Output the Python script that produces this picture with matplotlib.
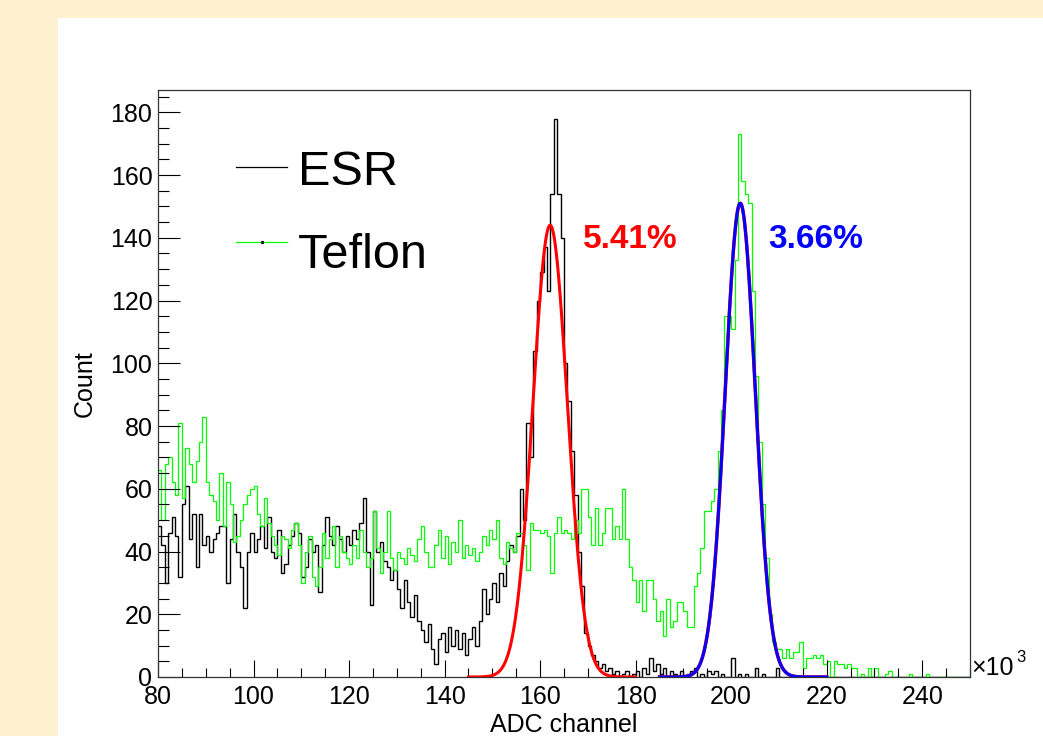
"""
ESR vs Teflon ADC spectra with Gaussian peak fits (ROOT-style canvas).
"""
import numpy as np
import matplotlib
matplotlib.use('Agg')
import matplotlib.pyplot as plt
from matplotlib.patches import Rectangle
from matplotlib.ticker import MultipleLocator

plt.rcParams['font.family'] = ['Liberation Sans', 'DejaVu Sans']

# binning: 350 bins over 0-250 (x10^3 ADC), range shown 80-250
bin_width = 250 / 350
x_lo, x_hi = 80, 250
y_hi = 187.1

# counts per bin, 14 bins per 10 channels (x10^3)
esr_counts = (
    [48, 42, 30, 46, 51, 45, 32, 55, 61, 44, 52, 35, 52, 42] +      # 80
    [45, 40, 44, 46, 48, 48, 30, 44, 52, 40, 35, 22, 40, 46] +      # 90
    [40, 44, 48, 41, 51, 40, 38, 47, 33, 36, 42, 45, 49, 46] +      # 100
    [32, 35, 44, 40, 42, 27, 42, 51, 45, 42, 48, 44, 40, 45] +      # 110
    [42, 47, 44, 49, 57, 40, 23, 53, 40, 43, 37, 35, 31, 34] +      # 120
    [28, 22, 31, 24, 19, 26, 18, 15, 11, 17, 9, 4, 12, 14] +        # 130
    [8, 16, 10, 15, 9, 14, 7, 12, 16, 10, 18, 28, 20, 25] +         # 140
    [30, 24, 33, 29, 37, 42, 40, 45, 60, 50, 81, 70, 104, 120] +    # 150
    [129, 137, 123, 154, 178, 154, 140, 100, 88, 72, 58, 40, 29, 14] +  # 160
    [10, 7, 5, 3, 4, 2, 3, 1, 2, 0, 1, 2, 0, 1] +                   # 170
    [2, 0, 3, 1, 6, 2, 4, 1, 3, 0, 2, 1, 0, 2] +                    # 180
    [0, 1, 2, 3, 0, 1, 0, 2, 1, 2, 0, 1, 0, 0] +                    # 190
    [6, 0, 1, 0, 1, 0, 0, 3, 0, 1, 0, 0, 0, 3] +                    # 200
    [0] * 14 + [0] * 14 + [0] * 14 + [0] * 14                       # 210-250
)

teflon_counts = (
    [66, 50, 68, 70, 62, 58, 81, 57, 73, 68, 62, 69, 75, 83] +      # 80
    [62, 58, 56, 50, 65, 48, 62, 55, 43, 45, 50, 55, 58, 60] +      # 90
    [61, 52, 48, 57, 49, 45, 42, 39, 45, 44, 41, 47, 49, 42] +      # 100
    [30, 40, 45, 32, 29, 35, 46, 38, 44, 48, 35, 45, 40, 38] +      # 110
    [36, 42, 38, 47, 40, 35, 38, 53, 41, 33, 40, 53, 38, 34] +      # 120
    [40, 38, 36, 41, 39, 37, 44, 48, 40, 35, 35, 42, 47, 38] +      # 130
    [45, 36, 43, 40, 50, 38, 42, 39, 41, 37, 40, 45, 42, 47] +      # 140
    [44, 50, 38, 36, 43, 41, 40, 46, 46, 42, 34, 49, 47, 47] +      # 150
    [46, 47, 45, 33, 46, 51, 46, 47, 46, 44, 50, 46, 60, 60] +      # 160
    [51, 42, 54, 42, 46, 54, 54, 44, 48, 44, 60, 44, 35, 31] +      # 170
    [24, 31, 21, 31, 31, 25, 18, 21, 13, 25, 16, 18, 24, 24] +      # 180
    [21, 16, 16, 29, 33, 41, 53, 53, 56, 60, 72, 85, 115, 115] +    # 190
    [111, 133, 173, 158, 154, 151, 123, 96, 75, 55, 38, 20, 11, 9] +  # 200
    [9, 6, 9, 6, 8, 8, 11, 3, 6, 6, 7, 6, 7, 4] +                   # 210
    [5, 0, 5, 4, 4, 3, 4, 3, 3, 0, 1, 0, 3, 0] +                    # 220
    [3, 0, 0, 1, 2, 0, 0, 0, 0, 0, 1, 0, 0, 0] +                    # 230
    [0, 1, 0, 0, 0, 0, 0, 0, 0, 0, 0, 0, 0, 0]                      # 240
)

# gaussian fit results: (amplitude, mean, sigma, fit range)
esr_fit = (144.0, 162.1, 3.6, (145.0, 180.0))
teflon_fit = (151.0, 201.9, 3.14, (185.0, 220.0))
esr_res_label = '5.41%'
teflon_res_label = '3.66%'


def gauss_curve(fit, npts=400):
    amp, mu, sig, (lo, hi) = fit
    x = np.linspace(lo, hi, npts)
    return x, amp * np.exp(-0.5 * ((x - mu) / sig) ** 2)


W, H = 1043, 736
fig = plt.figure(figsize=(W / 100, H / 100), dpi=100)
fig.patch.set_facecolor('#FEF1D0')
fig.add_artist(Rectangle((58 / W, 0), 1 - 58 / W, 1 - 18 / H,
                         transform=fig.transFigure, facecolor='white',
                         edgecolor='none', zorder=0))

ax_l, ax_r, ax_t, ax_b = 158, 970, 90, 677
ax = fig.add_axes([ax_l / W, 1 - ax_b / H, (ax_r - ax_l) / W, (ax_b - ax_t) / H])
ax.set_facecolor('white')

edges = x_lo + bin_width * np.arange(len(esr_counts) + 1)
ax.stairs(esr_counts, edges, color='black', linewidth=1.0, baseline=None)
ax.stairs(teflon_counts, edges, color='#00FF00', linewidth=0.9, baseline=None)

xr, yr = gauss_curve(esr_fit)
ax.plot(xr, yr, color='#FF0000', linewidth=2.2, zorder=4)
xb, yb = gauss_curve(teflon_fit)
ax.plot(xb, yb, color='#FF0000', linewidth=2.5, zorder=4)
ax.plot(xb, yb, color='#0000FF', linewidth=2.2, zorder=5)

ax.text(168.9, 136.6, esr_res_label, color='#FF0000', fontsize=24,
        fontweight='bold', ha='left', va='baseline')
ax.text(207.8, 136.6, teflon_res_label, color='#0000FF', fontsize=24,
        fontweight='bold', ha='left', va='baseline')

ax.set_xlim(x_lo, x_hi)
ax.set_ylim(0, y_hi)
ax.xaxis.set_major_locator(MultipleLocator(20))
ax.xaxis.set_minor_locator(MultipleLocator(5))
ax.yaxis.set_major_locator(MultipleLocator(20))
ax.yaxis.set_minor_locator(MultipleLocator(5))
ax.tick_params(which='both', direction='in', top=False, right=False,
               labelsize=18, width=0.8, color='black')
ax.tick_params(axis='x', which='major', length=12.5, pad=6)
ax.tick_params(axis='x', which='minor', length=6.5)
ax.tick_params(axis='y', which='major', length=15.5, pad=4)
ax.tick_params(axis='y', which='minor', length=8)
for sp in ax.spines.values():
    sp.set_linewidth(0.9)
    sp.set_color('#333333')

ax.set_xlabel('ADC channel', fontsize=18, labelpad=3)
ax.set_ylabel('Count', fontsize=18, labelpad=10)

ax.text(1.001, 0.004, '\u00d710', transform=ax.transAxes, fontsize=18,
        ha='left', va='baseline')
ax.text(1.057, 0.026, '3', transform=ax.transAxes, fontsize=12,
        ha='left', va='baseline')

# legend drawn by hand in axes fraction
leg_x0, leg_x1, leg_tx = 0.0961, 0.1589, 0.1724
ax.plot([leg_x0, leg_x1], [0.8688, 0.8688], transform=ax.transAxes,
        color='black', linewidth=0.9)
ax.text(leg_tx, 0.838, 'ESR', transform=ax.transAxes, fontsize=35,
        ha='left', va='baseline')
ax.plot([leg_x0, leg_x1], [0.7411, 0.7411], transform=ax.transAxes,
        color='#00FF00', linewidth=0.9)
ax.plot([(leg_x0 + leg_x1) / 2], [0.7411], transform=ax.transAxes,
        marker='s', markersize=1.2, color='black', linestyle='none')
ax.text(leg_tx, 0.6968, 'Teflon', transform=ax.transAxes, fontsize=35,
        ha='left', va='baseline')

fig.savefig('out.png', dpi=100)
